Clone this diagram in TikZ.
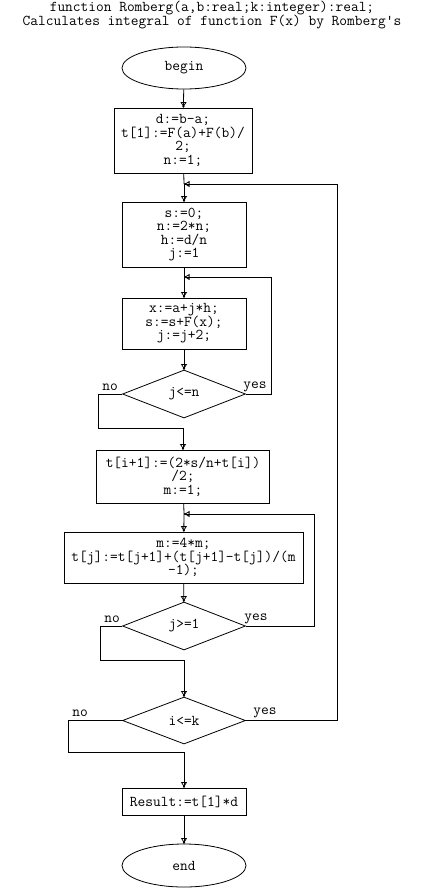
\documentclass[tikz,border=0pt]{standalone}
\usetikzlibrary{shapes.geometric,arrows.meta}
\lineskiplimit=-20pt

\begin{document}
\begin{tikzpicture}[x=1pt, y=-1pt, line width=.8pt,
  font=\ttfamily\fontsize{15}{13.5}\selectfont,
  >={Triangle[open,length=5pt,width=6pt,sep=-1.5pt]Circle[length=2pt]},
  term/.style={draw, ellipse, inner sep=0pt, minimum width=124pt, minimum height=42pt},
  proc/.style={draw, rectangle, inner sep=0pt, align=center},
  decide/.style={draw, diamond, inner sep=0pt, minimum width=123pt, minimum height=48pt}]
\useasboundingbox (0,0) rectangle (424,888);

\node[align=center](title) at (212,15){function Romberg(a,b:real;k:integer):real;\\Calculates integral of function F(x) by Romberg's};

\node[term](begin) at (184,68){begin};
\node[proc, minimum width=138pt, minimum height=65pt](b1) at (183,140.5){d:=b-a;\\t[1]:=F(a)+F(b)/\\2;\\n:=1;};
\node[proc, minimum width=124pt, minimum height=65pt](b2) at (184,234.5){s:=0;\\n:=2*n;\\h:=d/n\\j:=1};
\node[proc, minimum width=124pt, minimum height=51pt](b3) at (184,323.5){x:=a+j*h;\\s:=s+F(x);\\j:=j+2;};
\node[decide](d1) at (184,394){j<=n};
\node[proc, minimum width=173pt, minimum height=53pt](b4) at (183,476.5){t[i+1]:=(2*s/n+t[i])\\/2;\\m:=1;};
\node[proc, minimum width=239pt, minimum height=51pt](b5) at (183.5,557.5){m:=4*m;\\t[j]:=t[j+1]+(t[j+1]-t[j])/(m\\-1);};
\node[decide](d2) at (184,626){j>=1};
\node[decide, minimum height=47pt](d3) at (184,720.5){i<=k};
\node[proc, minimum width=124pt, minimum height=27pt](res) at (184,801.5){Result:=t[1]*d};
\node[term, minimum height=43pt](end) at (184,865.5){end};

\coordinate(j1) at (184,184);
\coordinate(j2) at (184,277);
\coordinate(j3) at (184,514);

\draw[->](begin)--(b1);
\draw(b1)--(j1);\draw[->](j1)--(b2);
\draw(b2)--(j2);\draw[->](j2)--(b3);
\draw[->](b3)--(d1);
\draw[->](d1.east)-|(271,277)--(j2);
\draw[->](d1.west)-|(98,428)-|(b4.north);
\draw(b4)--(j3);\draw[->](j3)--(b5);
\draw[->](b5)--(d2);
\draw[->](d2.east)-|(314,514)--(j3);
\draw[->](d2.west)-|(100,660)-|(d3.north);
\draw[->](d3.east)-|(337,184)--(j1);
\draw[->](d3.west)-|(68,752)-|(res.north);
\draw[->](res)--(end);

\node(no1) at (110,387){no};
\node(yes1) at (255,387){yes};
\node(no2) at (112,619){no};
\node(yes2) at (256,619){yes};
\node(no3) at (80,713){no};
\node(yes3) at (265,713){yes};
\end{tikzpicture}
\end{document}
